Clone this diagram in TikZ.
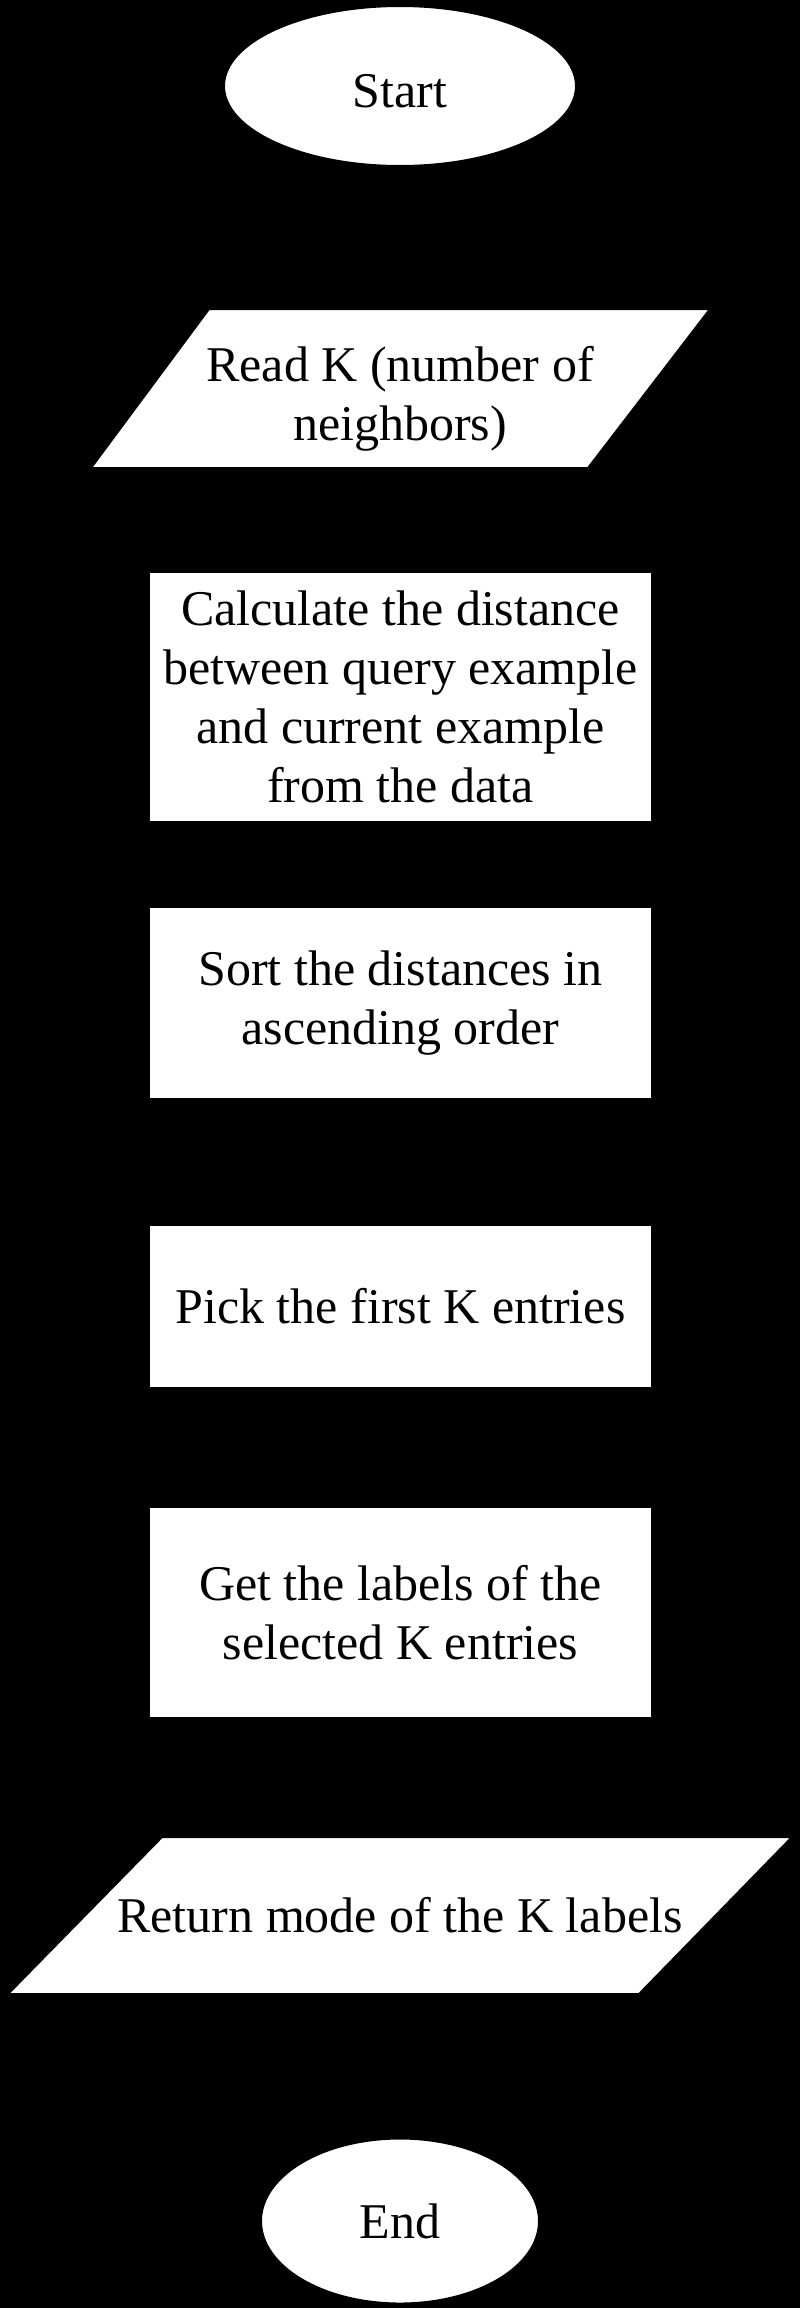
\documentclass[tikz,border=0pt]{standalone}
\usepackage{fontspec}
\setmainfont{Liberation Serif}
\usetikzlibrary{arrows.meta,shapes.geometric}
\begin{document}
\begin{tikzpicture}[x=1pt,y=-1pt,
  txt/.style={align=center, font=\fontsize{50}{59}\selectfont, text=black, inner sep=0pt},
  procbox/.style={txt, rectangle, draw=black, fill=white, line width=2pt, minimum width=503pt},
  termnode/.style={txt, ellipse, draw=black, fill=white, line width=2pt},
  ionode/.style={txt, rectangle, minimum width=1pt},
  iofill/.style={fill=white, draw=black, line width=2pt},
  flow/.style={draw=black, line width=2pt, -{Stealth[length=14pt,width=12pt]}}
]
\fill[black] (0,0) rectangle (800,2308);

\node[termnode, minimum width=352pt, minimum height=160pt] (start) at (400,86) {};
\node[txt] (starttxt) at (400,91) {Start};

\path[iofill] (209,309) -- (710,309) -- (588,468) -- (91,468) -- cycle;
\node[ionode, minimum height=159pt] (read) at (400,388.5) {};
\node[txt] (readtxt) at (400,399) {Read K (number of\\neighbors)};

\node[procbox, minimum height=250pt] (calc) at (400.5,697) {Calculate the distance\\between query example\\and current example\\from the data};

\node[procbox, minimum height=192pt] (sort) at (400.5,1003) {Sort the distances in\\ascending order};

\node[procbox, minimum height=163pt] (pick) at (400.5,1306.5) {Pick the first K entries};

\node[procbox, minimum height=211pt] (get) at (400.5,1612.5) {Get the labels of the\\selected K entries};

\path[iofill] (162,1837) -- (792,1837) -- (639,1994) -- (8,1994) -- cycle;
\node[ionode, minimum height=157pt] (ret) at (400,1915.5) {Return mode of the K labels};

\node[termnode, minimum width=278pt, minimum height=165pt] (end) at (400,2221) {End};

\draw[flow] (start) -- (read);
\draw[flow] (read) -- (calc);
\draw[flow] (calc) -- (sort);
\draw[flow] (sort) -- (pick);
\draw[flow] (pick) -- (get);
\draw[flow] (get) -- (ret);
\draw[flow] (ret) -- (end);
\end{tikzpicture}
\end{document}
